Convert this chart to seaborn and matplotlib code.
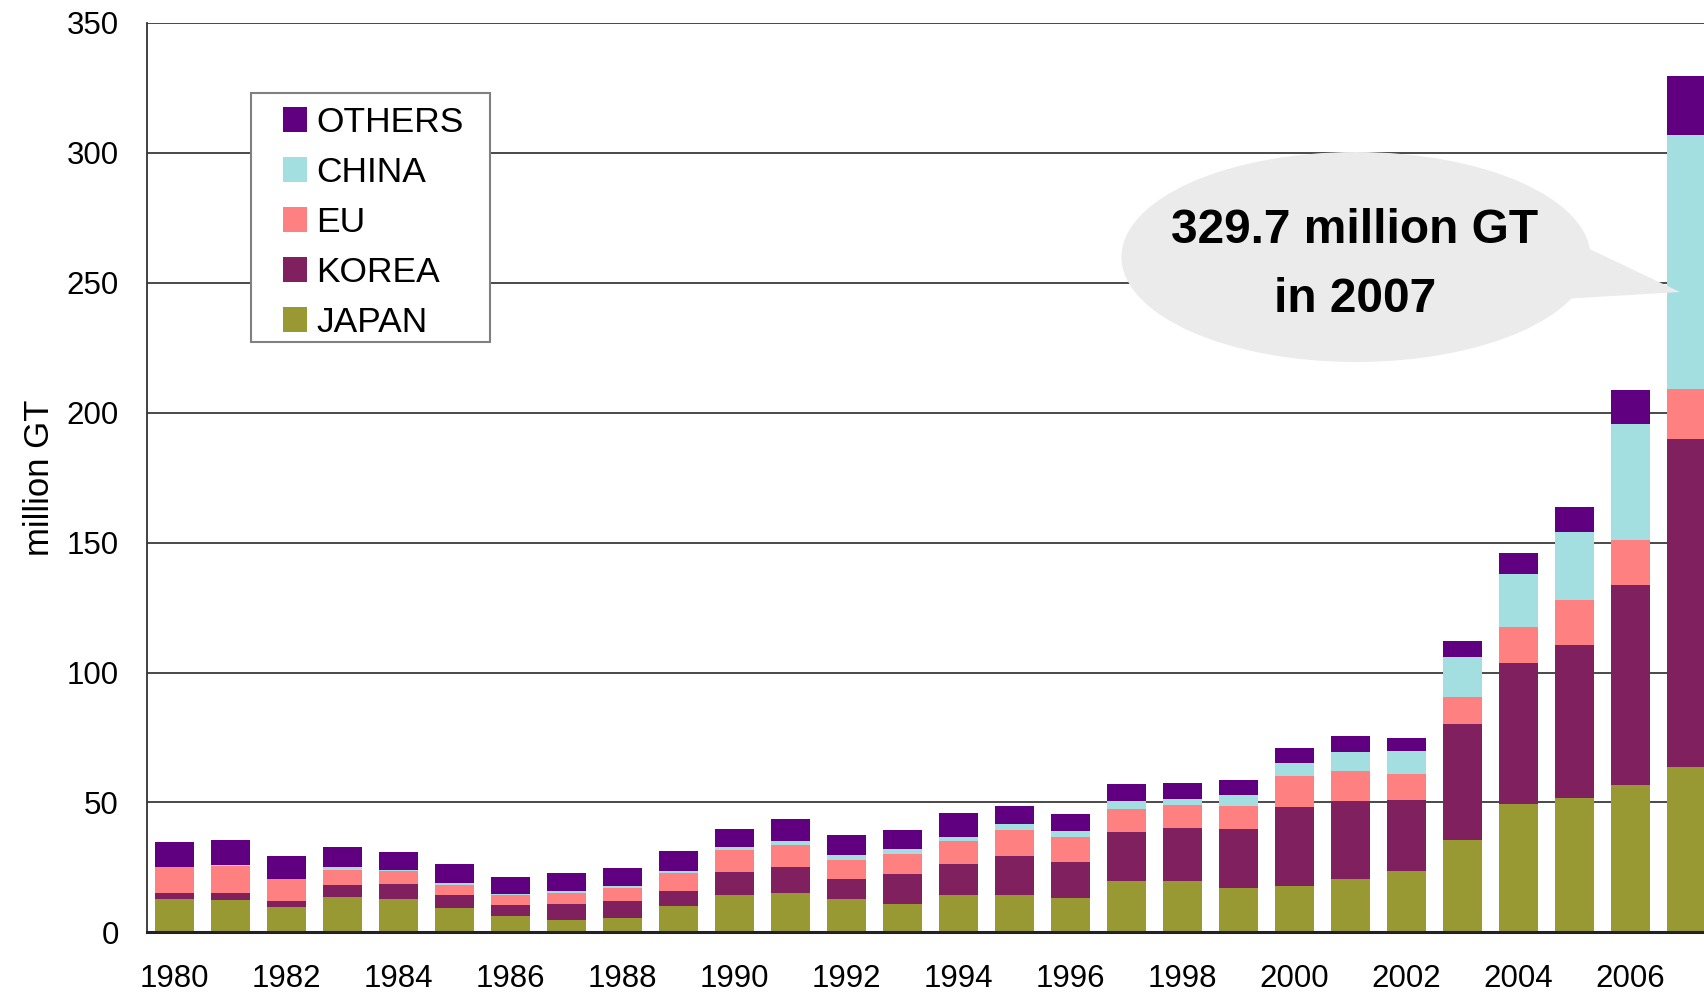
import matplotlib
matplotlib.use("Agg")
import matplotlib.pyplot as plt
from matplotlib.patches import Ellipse, Polygon, Patch, Rectangle
import numpy as np
import pandas as pd
import seaborn as sns

years = list(range(1980, 2008))
japan = [13.0, 12.6, 9.9, 13.8, 13.0, 9.5, 6.4, 4.9, 5.7, 10.3, 14.2, 15.3, 13.0, 11.1,
         14.2, 14.2, 13.4, 19.6, 19.6, 17.2, 17.8, 20.5, 23.7, 35.6, 49.4, 51.7, 56.8, 63.7]
korea = [2.3, 2.7, 2.3, 4.6, 5.8, 4.7, 4.3, 6.2, 6.2, 5.8, 8.9, 9.7, 7.4, 11.2,
         12.3, 15.1, 13.5, 18.9, 20.5, 22.7, 30.5, 30.1, 27.2, 44.5, 54.2, 58.9, 76.8, 126.3]
eu = [9.7, 10.1, 8.5, 5.8, 4.7, 4.2, 3.5, 4.2, 5.0, 6.6, 8.5, 8.5, 7.3, 7.7,
      8.6, 10.0, 9.7, 8.9, 8.8, 8.8, 12.0, 11.5, 10.0, 10.4, 13.9, 17.3, 17.3, 18.9]
china = [0.0, 0.4, 0.0, 0.8, 0.4, 0.8, 0.7, 0.8, 1.1, 0.8, 1.1, 1.6, 1.9, 2.0,
         1.5, 2.3, 2.3, 3.1, 2.4, 4.3, 4.8, 7.3, 9.0, 15.5, 20.4, 26.2, 44.7, 97.8]
others = [9.7, 9.6, 8.6, 7.7, 7.0, 7.0, 6.6, 6.6, 6.6, 7.7, 7.0, 8.5, 7.8, 7.3,
          9.3, 7.0, 6.6, 6.6, 6.2, 5.8, 5.9, 6.2, 4.9, 6.1, 8.0, 9.6, 13.1, 23.0]
series_names = ["JAPAN", "KOREA", "EU", "CHINA", "OTHERS"]
colors = {"JAPAN": "#999933", "KOREA": "#80205F", "EU": "#FF8080",
          "CHINA": "#A3DFE0", "OTHERS": "#600080"}
y_ticks = [0, 50, 100, 150, 200, 250, 300, 350]
callout_text = ["329.7 million GT", "in 2007"]

df = pd.DataFrame({"year": [str(y) for y in years], "JAPAN": japan, "KOREA": korea,
                   "EU": eu, "CHINA": china, "OTHERS": others})
cum = df[series_names].cumsum(axis=1)

sns.set_style("white")
plt.rcParams["font.family"] = ["Liberation Sans", "DejaVu Sans"]
plt.rcParams["text.color"] = "black"
plt.rcParams["axes.labelcolor"] = "black"
plt.rcParams["xtick.color"] = "black"
plt.rcParams["ytick.color"] = "black"

W, H = 1704, 993
fig = plt.figure(figsize=(W / 100, H / 100), dpi=100)
ax = fig.add_axes([146.7 / W, 1 - 932.4 / H, (W - 146.7) / W, (932.4 - 22.8) / H])

order = [str(y) for y in years]
for name in reversed(series_names):
    sns.barplot(x=df["year"], y=cum[name], order=order, color=colors[name],
                saturation=1, width=0.7, linewidth=0, ax=ax, zorder=2)

ax.set_xlim(-0.5, 27.31)
ax.set_ylim(0, 350)
ax.set_yticks(y_ticks)
ax.set_yticklabels([str(v) for v in y_ticks], fontsize=22.5)
xt = list(range(0, len(years), 2))
ax.set_xticks(xt)
ax.set_xticklabels([str(years[i]) for i in xt], fontsize=22.5)
ax.tick_params(axis="y", length=0, pad=20)
ax.tick_params(axis="x", length=0, pad=23)
ax.set_axisbelow(True)
ax.yaxis.grid(True, color="#2a2a2a", linewidth=1.2)
ax.xaxis.grid(False)
for s in ["top", "right"]:
    ax.spines[s].set_visible(False)
ax.spines["left"].set_color("#333333")
ax.spines["left"].set_linewidth(1.3)
ax.spines["bottom"].set_color("#222222")
ax.spines["bottom"].set_linewidth(2.2)
ax.set_xlabel("")
ax.set_ylabel("million GT", fontsize=25)
ax.yaxis.set_label_coords(-0.058, 0.5)

# overlay in pixel space for legend frame and callout
ov = fig.add_axes([0, 0, 1, 1], zorder=5)
ov.set_xlim(0, W)
ov.set_ylim(H, 0)
ov.axis("off")
ov.patch.set_alpha(0)
ov.add_patch(Rectangle((251, 92.7), 239, 249, facecolor="white", edgecolor="#808080",
                       linewidth=1.5))

handles = [Patch(facecolor=colors[n], edgecolor="none", label=n) for n in reversed(series_names)]
leg = fig.legend(handles=handles, loc="upper left", bbox_to_anchor=(282.5 / W, 1 - 105.5 / H),
                 bbox_transform=fig.transFigure, fontsize=25.5, frameon=False,
                 handlelength=0.7, handleheight=0.7, handletextpad=0.25,
                 labelspacing=0.48, borderpad=0, borderaxespad=0)
leg.set_zorder(6)

ov.add_patch(Ellipse((1356, 257), 469, 210, facecolor="#EBEBEB", edgecolor="none"))
ov.add_patch(Polygon([(1560, 235), (1680, 292), (1545, 300)], closed=True,
                     facecolor="#EBEBEB", edgecolor="none"))
ov.text(1355, 243, callout_text[0], ha="center", va="baseline", fontsize=34.5, fontweight="bold")
ov.text(1355, 311.5, callout_text[1], ha="center", va="baseline", fontsize=34.5, fontweight="bold")

fig.savefig("out.png", dpi=100)
